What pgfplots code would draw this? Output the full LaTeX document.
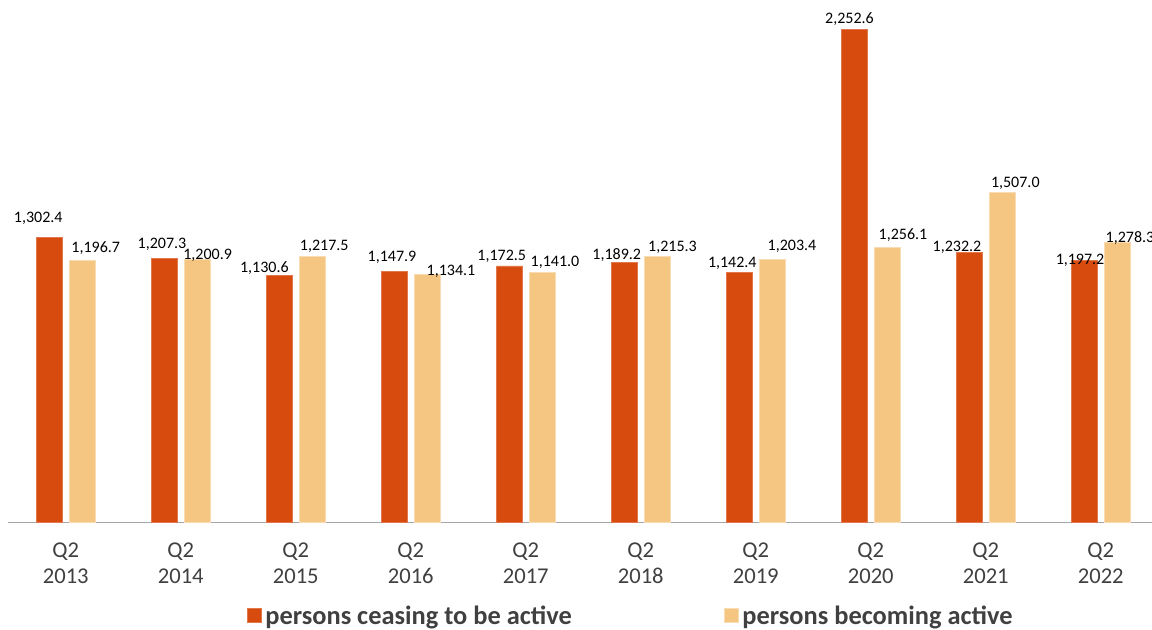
\documentclass[border=0pt]{standalone}
\usepackage{pgfplots}
\pgfplotsset{compat=1.18}
\usepackage{pgfplotstable}
\usepackage{fontspec}
\setmainfont{Carlito}
\definecolor{darkor}{HTML}{D84B0E}
\definecolor{lightor}{HTML}{F5C582}
\definecolor{axgray}{HTML}{A6A6A6}
\definecolor{txtgray}{HTML}{404040}
\pgfplotstableread{
x y
0 1302.4
1 1207.3
2 1130.6
3 1147.9
4 1172.5
5 1189.2
6 1142.4
7 2252.6
8 1232.2
9 1197.2
}\ceasing
\pgfplotstableread{
x y
0 1196.7
1 1200.9
2 1217.5
3 1134.1
4 1141.0
5 1215.3
6 1203.4
7 1256.1
8 1507.0
9 1278.3
}\becoming
\pgfplotstableread{
x y label
-0.239 1370.7 1,302.4
0.261 1235.0 1,196.7
0.837 1250.6 1,207.3
1.234 1199.4 1,200.9
1.727 1143.7 1,130.6
2.248 1242.8 1,217.5
2.837 1193.9 1,147.9
3.350 1128.6 1,134.1
3.791 1197.1 1,172.5
4.254 1169.7 1,141.0
4.791 1200.3 1,189.2
5.276 1239.6 1,215.3
5.796 1166.5 1,142.4
6.315 1242.8 1,203.4
6.815 2281.4 2,252.6
7.280 1291.7 1,256.1
7.750 1238.2 1,232.2
8.257 1529.3 1,507.0
8.820 1178.8 1,197.2
9.254 1280.7 1,278.3
}\labels
\begin{document}
\begin{tikzpicture}
\begin{axis}[
  at={(4.125pt,53.75pt)}, anchor=south west,
  scale only axis,
  width=575pt, height=262.65pt,
  xmin=-0.5, xmax=9.5, ymin=0, ymax=2400,
  clip=false,
  axis x line=bottom,
  axis y line=none,
  x axis line style={draw=axgray, line width=0.75pt, -},
  xtick={0,...,9},
  xticklabels={{Q2\\2013},{Q2\\2014},{Q2\\2015},{Q2\\2016},{Q2\\2017},{Q2\\2018},{Q2\\2019},{Q2\\2020},{Q2\\2021},{Q2\\2022}},
  major tick length=0pt,
  xticklabel style={align=center, text=txtgray, font=\fontsize{11.3}{13.35}\selectfont, yshift=-6.5pt},
  ytick=\empty,
  legend columns=2,
  legend style={at={(0.5421,-0.1788)}, anchor=center, draw=none, fill=none,
    font=\fontsize{13.2}{15}\selectfont\bfseries, text=txtgray,
    /tikz/every even column/.append style={column sep=74pt}},
  legend image code/.code={\fill[#1] (0pt,-0.3em) rectangle (7pt,{-0.3em+7pt});},
]
\addplot[ybar, bar width=0.2226, bar shift=-0.1413, fill=darkor, draw=darkor!75!white, line width=0.3pt] table[x=x,y=y] {\ceasing};
\addlegendentry{persons ceasing to be active}
\addplot[ybar, bar width=0.2226, bar shift=0.1413, fill=lightor, draw=lightor!60!white, line width=0.3pt] table[x=x,y=y] {\becoming};
\addlegendentry{persons becoming active}
\addplot[draw=none, mark=none, forget plot,
  nodes near coords, point meta=explicit symbolic,
  nodes near coords style={anchor=base, inner sep=0pt, text=black, font=\fontsize{8}{9.6}\selectfont}]
  table[x=x,y=y,meta=label] {\labels};
\end{axis}
\pgfresetboundingbox
\path[use as bounding box] (0,0) rectangle (576pt,315pt);
\end{tikzpicture}
\end{document}
